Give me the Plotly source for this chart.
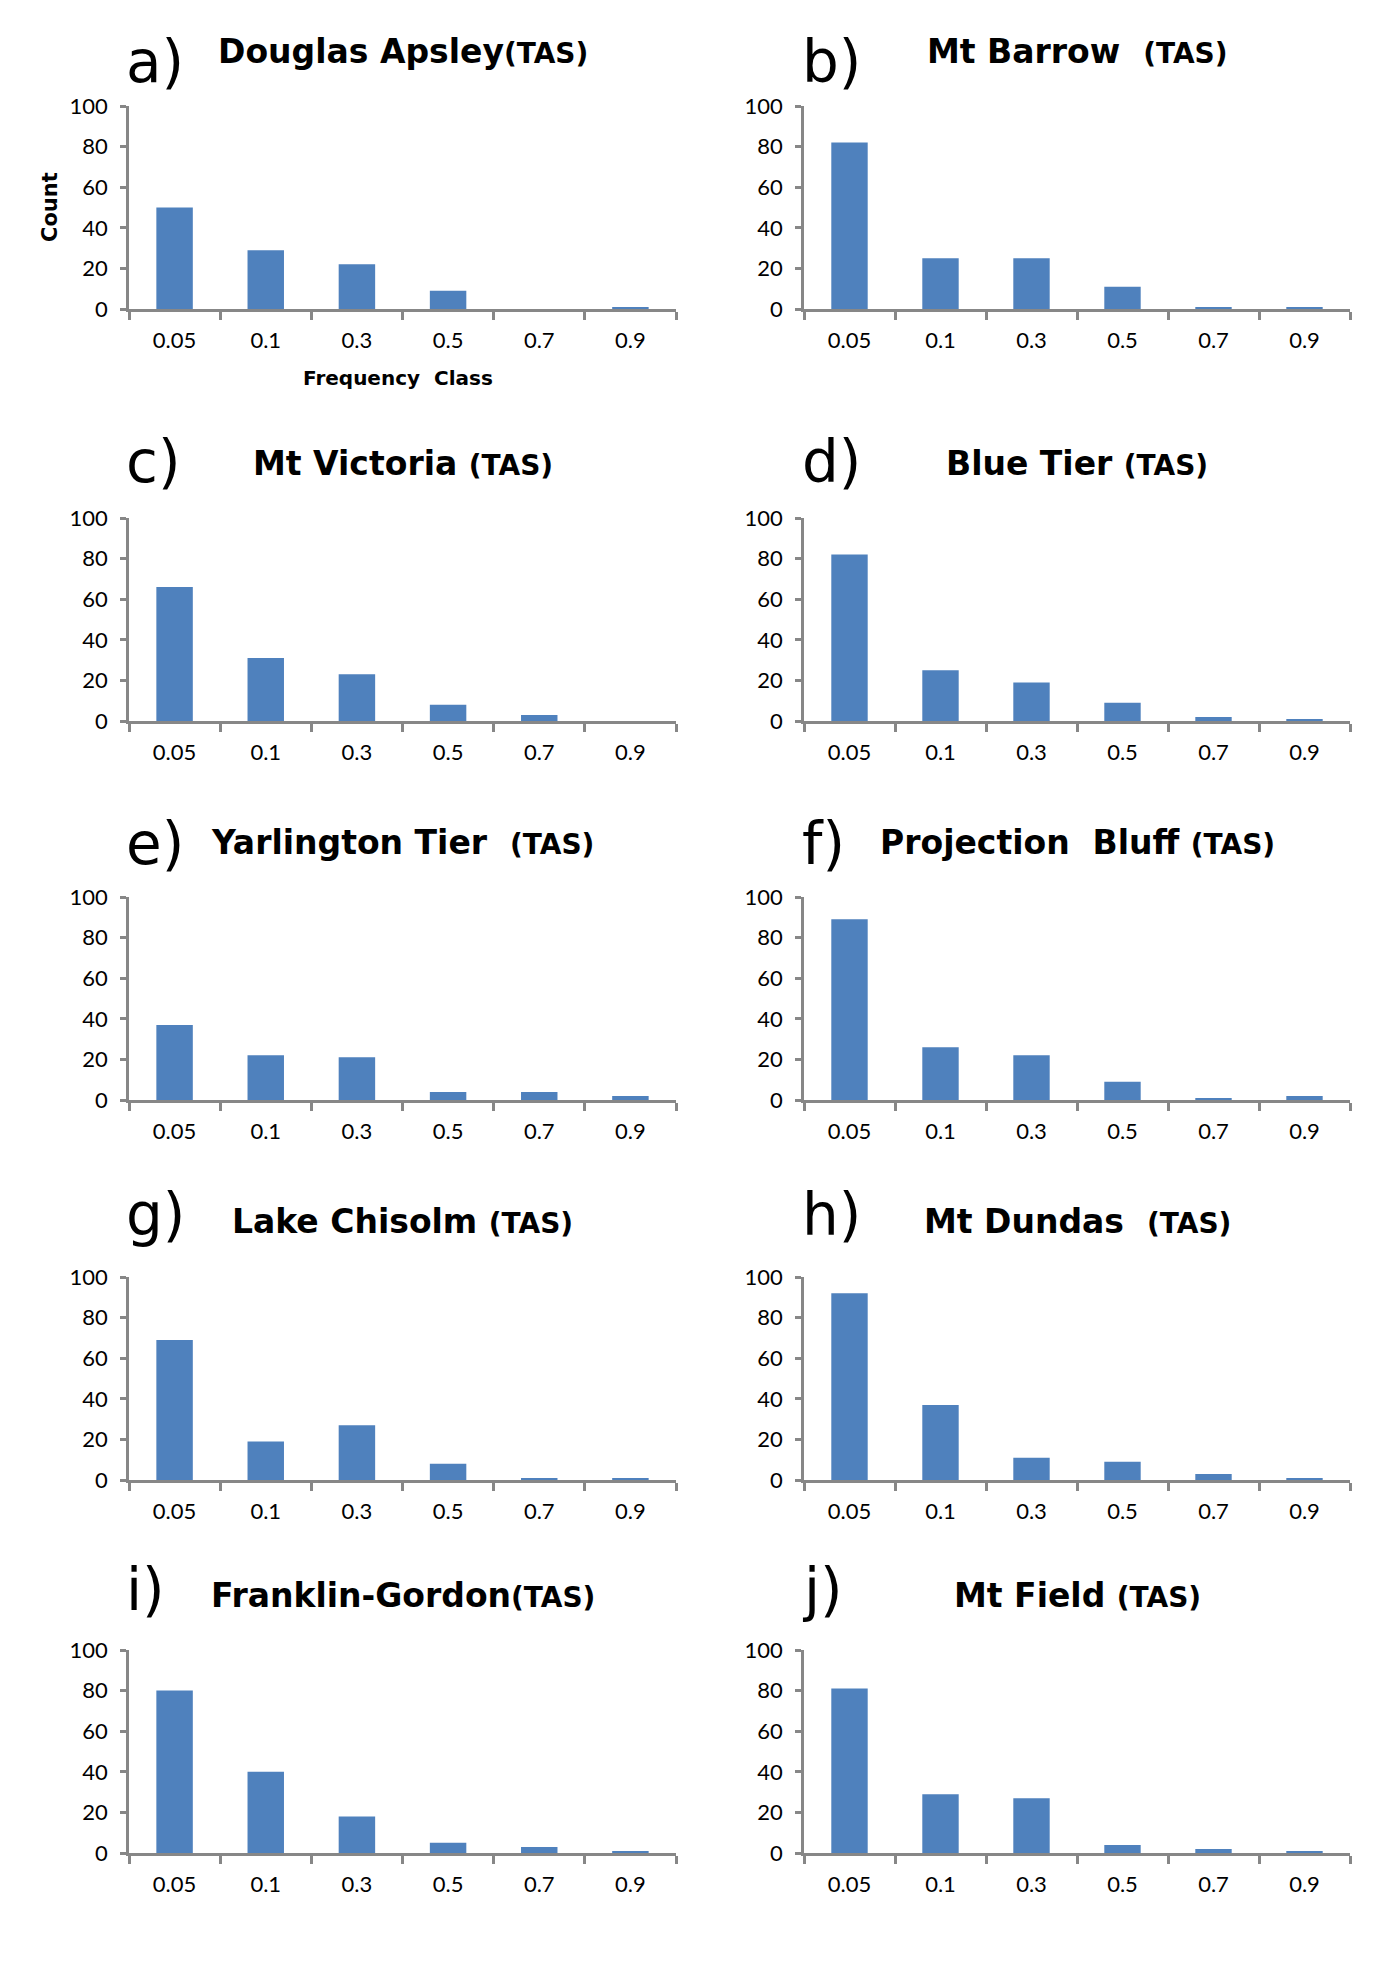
import plotly.graph_objects as go

# ---------------- data ----------------
categories = ["0.05", "0.1", "0.3", "0.5", "0.7", "0.9"]
panel_letters = ["a)", "b)", "c)", "d)", "e)", "f)", "g)", "h)", "i)", "j)"]
site_names = ["Douglas Apsley", "Mt Barrow  ", "Mt Victoria ", "Blue Tier ",
              "Yarlington Tier  ", "Projection  Bluff ", "Lake Chisolm ",
              "Mt Dundas  ", "Franklin-Gordon", "Mt Field "]
region = "(TAS)"

douglas_apsley = [50, 29, 22, 9, 0, 1]
mt_barrow = [82, 25, 25, 11, 1, 1]
mt_victoria = [66, 31, 23, 8, 3, 0]
blue_tier = [82, 25, 19, 9, 2, 1]
yarlington_tier = [37, 22, 21, 4, 4, 2]
projection_bluff = [89, 26, 22, 9, 1, 2]
lake_chisolm = [69, 19, 27, 8, 1, 1]
mt_dundas = [92, 37, 11, 9, 3, 1]
franklin_gordon = [80, 40, 18, 5, 3, 1]
mt_field = [81, 29, 27, 4, 2, 1]

site_counts = [douglas_apsley, mt_barrow, mt_victoria, blue_tier, yarlington_tier,
               projection_bluff, lake_chisolm, mt_dundas, franklin_gordon, mt_field]

y_ticks = [0, 20, 40, 60, 80, 100]
y_title = "Count"
x_title = "Frequency  Class"

# ---------------- layout geometry (pixels) ----------------
W, H = 1379, 1969
col_x = [(129, 676), (804, 1350)]
row_y = [(106, 309), (518, 721), (897, 1100), (1277, 1480), (1650, 1853)]
title_base = [63, 476, 854, 1233, 1607]
letter_base = [82, 482, 864, 1235, 1610]
letter_x = [124, 800]

TICK_FONT = "Lato"
BOLD_FONT = "DejaVu Sans"
BAR = "#4F81BD"
AX = "#878787"

def px(x):
    return x / W

def py(y):
    return 1 - y / H

fig = go.Figure()
layout = dict(
    template="none",
    width=W, height=H,
    margin=dict(l=0, r=0, t=0, b=0, pad=0, autoexpand=False),
    paper_bgcolor="white", plot_bgcolor="white", showlegend=False,
    font=dict(family=TICK_FONT, color="black"),
)
annotations = []

for i, (name, vals) in enumerate(zip(site_names, site_counts)):
    r, c = divmod(i, 2)
    k = "" if i == 0 else str(i + 1)
    fig.add_trace(go.Bar(x=categories, y=vals, xaxis="x" + k, yaxis="y" + k,
                         marker=dict(color=BAR, line=dict(width=0)), width=0.4,
                         hoverinfo="x+y"))
    x0, x1 = col_x[c]
    y0, y1 = row_y[r]
    layout["xaxis" + k] = dict(
        domain=[px(x0), px(x1)], anchor="y" + k, type="category",
        range=[-0.5, 5.5], showline=True, linecolor=AX, linewidth=2.5,
        ticks="outside", tickson="boundaries", ticklen=8, tickwidth=2.5,
        tickcolor=AX, showgrid=False, zeroline=False, automargin=False,
        tickfont=dict(family=TICK_FONT, size=22, color="black"),
        ticklabelstandoff=10,
    )
    layout["yaxis" + k] = dict(
        domain=[py(y1), py(y0)], anchor="x" + k, range=[0, 100],
        tickvals=y_ticks, showline=True, linecolor=AX, linewidth=2.5,
        ticks="outside", ticklen=6, tickwidth=2.5, tickcolor=AX,
        showgrid=False, zeroline=False, automargin=False,
        tickfont=dict(family=TICK_FONT, size=22, color="black"),
        ticklabelstandoff=8,
    )
    # title
    annotations.append(dict(
        xref="paper", yref="paper", x=px((x0 + x1) / 2), y=py(title_base[r] - 12),
        xanchor="center", yanchor="middle", showarrow=False,
        text=f"<b>{name}</b><span style='font-size:28px'><b>{region}</b></span>",
        font=dict(family=BOLD_FONT, size=33, color="black"),
    ))
    # panel letter
    annotations.append(dict(
        xref="paper", yref="paper", x=px(letter_x[c]), y=py(letter_base[r] - 20),
        xanchor="left", yanchor="middle", showarrow=False,
        text=panel_letters[i],
        font=dict(family=BOLD_FONT, size=58, color="black"),
    ))

# axis titles (panel a only)
annotations.append(dict(
    xref="paper", yref="paper", x=px(50), y=py(207), xanchor="center",
    yanchor="middle", showarrow=False, textangle=-90,
    text=f"<b>{y_title}</b>", font=dict(family=BOLD_FONT, size=21, color="black"),
))
annotations.append(dict(
    xref="paper", yref="paper", x=px(398), y=py(378), xanchor="center",
    yanchor="middle", showarrow=False,
    text=f"<b>{x_title}</b>", font=dict(family=BOLD_FONT, size=20, color="black"),
))

layout["annotations"] = annotations
fig.update_layout(**layout)
fig.write_html("out.html")
